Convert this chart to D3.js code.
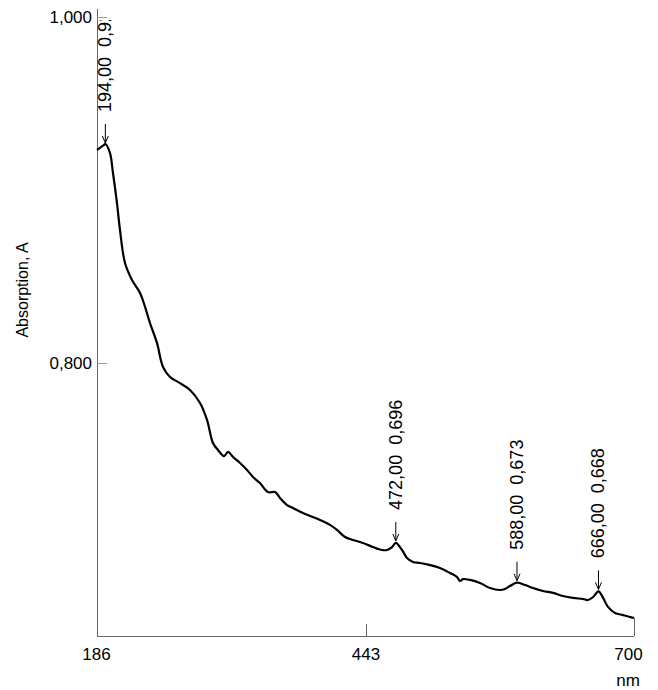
<!DOCTYPE html>
<html>
<head>
<meta charset="utf-8">
<script src="https://cdn.jsdelivr.net/npm/d3@7"></script>
<style>
  html, body { margin: 0; padding: 0; background: #fff; }
  svg { display: block; font-family: "Liberation Sans", Arial, sans-serif; }
</style>
</head>
<body>
<svg id="chart" width="658" height="690"></svg>
<script>
// ---- data ----
const wavelength = [186, 192.7, 194, 198.4, 201.3, 205.1, 208, 212.8, 219.5, 227.2, 232, 236.7, 243.4, 249.2,
  255.9, 265.4, 275, 284.6, 291.3, 297, 301.8, 307.6, 311.4, 316.2, 322.9, 329.6, 335.3, 342.0, 349.7,
  356.4, 361.2, 367.9, 373.6, 383.2, 389.9, 399.5, 409.0, 415.7, 423.4, 431.0, 440.6, 450.2, 458.8,
  463.6, 468.4, 472, 478.0, 482.7, 488.5, 495.2, 504.8, 514.3, 523.9, 530.6, 533.5, 536.3, 543.0,
  552.6, 562.2, 571.7, 576.5, 581.3, 588, 595.7, 603.3, 612.9, 622.5, 632.0, 641.6, 651.2, 656.0,
  660.8, 666, 670.4, 675.1, 681.8, 689.5, 696.2, 700];
const absorbance = [0.9231, 0.9260, 0.9266, 0.9214, 0.9098, 0.8925, 0.8769, 0.8578, 0.8480, 0.8405, 0.8324, 0.8231, 0.8116, 0.7977,
  0.7919, 0.7884, 0.7844, 0.7769, 0.7671, 0.7538, 0.7497, 0.7462, 0.7486, 0.7457, 0.7422, 0.7382, 0.7341, 0.7306, 0.7254,
  0.7254, 0.7220, 0.7179, 0.7162, 0.7133, 0.7116, 0.7092, 0.7064, 0.7035, 0.6994, 0.6977, 0.6960, 0.6936, 0.6919,
  0.6919, 0.6936, 0.6960, 0.6919, 0.6873, 0.6850, 0.6844, 0.6832, 0.6815, 0.6786, 0.6763, 0.6740, 0.6751, 0.6746,
  0.6728, 0.6699, 0.6688, 0.6694, 0.6711, 0.6730, 0.6717, 0.6699, 0.6682, 0.6671, 0.6653, 0.6642, 0.6636, 0.6630,
  0.6647, 0.6680, 0.6642, 0.6590, 0.6555, 0.6543, 0.6532, 0.6526];

const peakWavelengths = [194, 472, 588, 666];
const peakValues = [0.926, 0.696, 0.673, 0.668];

const xTickValues = [186, 443, 700];
const yTickValues = [0.8, 1.0];
const xUnit = "nm";
const yTitle = "Absorption, A";

// ---- scales ----
const svg = d3.select("#chart");
const x = d3.scaleLinear().domain([186, 700]).range([97, 634]);
const y = d3.scaleLinear().domain([0.6422, 1.0046]).range([636, 9]);

const loc = d3.formatLocale({decimal: ",", thousands: ".", grouping: [3], currency: ["", ""]});
const f3 = loc.format(".3f");
const f2 = loc.format(".2f");

const axisColor = "#666";

svg.append("defs").append("clipPath").attr("id", "plotclip")
  .append("rect").attr("x", 0).attr("y", 20).attr("width", 658).attr("height", 670);

// ---- axes ----
const gx = svg.append("g").attr("transform", `translate(0,${y.range()[0]})`)
  .call(d3.axisBottom(x).tickValues(xTickValues).tickSize(0).tickPadding(12).tickFormat(d3.format("d")));
gx.select(".domain").remove();
gx.selectAll("text").attr("font-size", 17).attr("fill", "#000")
  .attr("font-family", "Liberation Sans, Arial, sans-serif")
  .attr("dx", d => d === 700 ? -6 : (d === 186 ? -1 : 0));
svg.append("line")
  .attr("x1", x(186)).attr("x2", x(700))
  .attr("y1", y.range()[0] + 0.5).attr("y2", y.range()[0] + 0.5)
  .attr("stroke", axisColor).attr("stroke-width", 1);
svg.selectAll(".xtick").data(xTickValues.slice(1)).enter().append("line")
  .attr("class", "xtick")
  .attr("x1", d => Math.round(x(d)) + 0.5).attr("x2", d => Math.round(x(d)) + 0.5)
  .attr("y1", y.range()[0]).attr("y2", d => y.range()[0] - (d === 700 ? 18 : 12))
  .attr("stroke", axisColor).attr("stroke-width", 1);

const gy = svg.append("g").attr("transform", `translate(${x.range()[0]},0)`)
  .call(d3.axisLeft(y).tickValues(yTickValues).tickSize(0).tickPadding(5).tickFormat(f3));
gy.select(".domain").remove();
gy.selectAll("text").attr("font-size", 17).attr("fill", "#000")
  .attr("font-family", "Liberation Sans, Arial, sans-serif");
svg.append("line")
  .attr("x1", x.range()[0] + 0.5).attr("x2", x.range()[0] + 0.5)
  .attr("y1", y.range()[1]).attr("y2", y.range()[0] + 1)
  .attr("stroke", axisColor).attr("stroke-width", 1);
svg.selectAll(".ytick").data(yTickValues).enter().append("line")
  .attr("class", "ytick")
  .attr("x1", x.range()[0]).attr("x2", x.range()[0] + 10)
  .attr("y1", d => Math.round(y(d)) + 0.5).attr("y2", d => Math.round(y(d)) + 0.5)
  .attr("stroke", "#999").attr("stroke-width", 1);

svg.append("text")
  .attr("transform", `translate(28,290) rotate(-90)`)
  .attr("text-anchor", "middle")
  .attr("font-size", 16).attr("fill", "#000")
  .text(yTitle);
svg.append("text")
  .attr("x", 628).attr("y", 686)
  .attr("text-anchor", "middle")
  .attr("font-size", 17).attr("fill", "#000")
  .text(xUnit);

// ---- curve ----
const pts = wavelength.map((w, i) => [w, absorbance[i]]);
svg.append("path")
  .datum(pts)
  .attr("fill", "none")
  .attr("stroke", "#000")
  .attr("stroke-width", 2.2)
  .attr("stroke-linejoin", "round")
  .attr("d", d3.line().x(d => x(d[0])).y(d => y(d[1])).curve(d3.curveCatmullRom.alpha(0.5)));

// ---- peak annotations ----
const ann = svg.append("g").attr("clip-path", "url(#plotclip)");
peakWavelengths.forEach((w, i) => {
  const px = x(w), py = y(peakValues[i]);
  ann.append("line")
    .attr("x1", px).attr("x2", px)
    .attr("y1", py - 21).attr("y2", py - 2)
    .attr("stroke", "#000").attr("stroke-width", 1);
  ann.append("path")
    .attr("d", `M${px - 3},${py - 9} L${px},${py - 2} L${px + 3},${py - 9}`)
    .attr("fill", "none").attr("stroke", "#000").attr("stroke-width", 1);
  ann.append("text")
    .attr("transform", `translate(${px + 6},${py - 33}) rotate(-90)`)
    .attr("font-size", 18).attr("fill", "#000")
    .attr("xml:space", "preserve")
    .style("white-space", "pre")
    .text(`${f2(w)}  ${f3(peakValues[i])}`);
});
</script>
</body>
</html>
